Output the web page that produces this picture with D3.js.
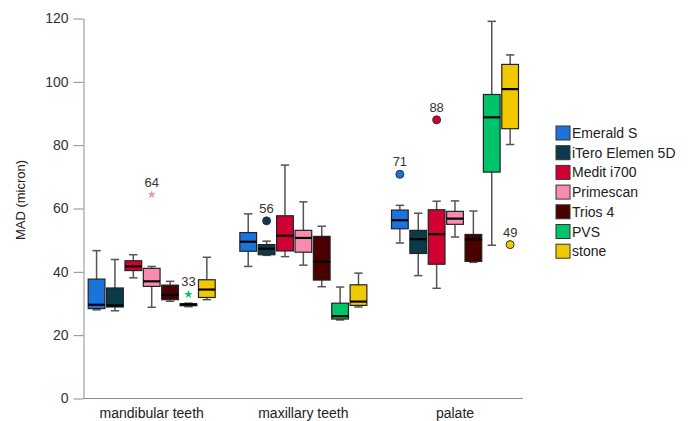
<!DOCTYPE html>
<html>
<head>
<meta charset="utf-8">
<script src="https://cdn.jsdelivr.net/npm/d3@7"></script>
<style>
  body { margin: 0; background: #fff; }
  text { font-family: "Liberation Sans", Arial, sans-serif; }
</style>
</head>
<body>
<svg id="chart" width="688" height="421"></svg>
<script>
'use strict';

const categories = ["mandibular teeth", "maxillary teeth", "palate"];
const series = ["Emerald S", "iTero Elemen 5D", "Medit i700", "Primescan", "Trios 4", "PVS", "stone"];
const colors = ["#1a74dc", "#0b3b4b", "#d10032", "#f78bb0", "#4a0000", "#00c36a", "#f1c900"];
const yTicks = [0, 20, 40, 60, 80, 100, 120];

// [whisker low, Q1, median, Q3, whisker high] for each category
const emeraldS  = [[28.0, 28.4, 29.6, 37.7, 46.7], [41.7, 46.5, 49.5, 52.4, 58.3], [49.1, 53.6, 56.3, 59.5, 61.0]];
const iTero     = [[27.7, 28.9, 29.4, 34.9, 43.9], [45.2, 45.4, 47.3, 48.6, 49.7], [38.8, 45.8, 50.3, 53.1, 58.5]];
const medit     = [[38.1, 40.4, 41.7, 43.5, 45.4], [44.8, 46.6, 51.4, 57.7, 73.7], [34.8, 42.4, 51.9, 59.6, 62.3]];
const primescan = [[28.8, 35.4, 37.0, 41.1, 41.7], [42.1, 46.2, 50.7, 53.1, 62.1], [51.0, 55.0, 56.8, 59.1, 62.4]];
const trios     = [[30.7, 31.2, 32.7, 35.8, 37.0], [35.3, 37.4, 43.2, 51.2, 54.4], [43.0, 43.3, 50.2, 51.8, 59.2]];
const pvs       = [[29.0, 29.3, 29.7, 29.9, 30.1], [24.8, 25.1, 26.0, 30.1, 35.2], [48.4, 71.5, 88.8, 96.0, 119.1]];
const stone     = [[31.2, 31.9, 34.4, 37.5, 44.6], [28.9, 29.4, 30.6, 35.9, 39.6], [80.2, 85.2, 97.7, 105.5, 108.5]];
const boxStats = [emeraldS, iTero, medit, primescan, trios, pvs, stone];

// outliers: series index, category index, value, case label, extreme (star)
const outliers = [
  { s: 3, c: 0, v: 64.4, label: "64", extreme: true },
  { s: 5, c: 0, v: 32.9, label: "33", extreme: true },
  { s: 1, c: 1, v: 56.1, label: "56", extreme: false },
  { s: 0, c: 2, v: 70.8, label: "71", extreme: false },
  { s: 2, c: 2, v: 88.0, label: "88", extreme: false },
  { s: 6, c: 2, v: 48.6, label: "49", extreme: false }
];

const svg = d3.select("#chart");
const axisLeftX = 83.5, axisRightX = 523;

const y = d3.scaleLinear().domain([0, 120]).range([398.5, 18.5]);
const x = d3.scalePoint().domain(categories).range([151.7, 455]);
const xs = d3.scaleBand().domain(series).range([-63.5, 63.5]).paddingInner(0.09);
const bw = xs.bandwidth();

// y axis
const yAxis = svg.append("g").attr("transform", `translate(${axisLeftX},0)`)
  .call(d3.axisLeft(y).tickValues(yTicks).tickSize(10).tickPadding(5).tickSizeOuter(0));
yAxis.select(".domain").attr("stroke", "#8c8c8c");
yAxis.selectAll(".tick line").attr("stroke", "#8c8c8c");
yAxis.selectAll(".tick text").attr("fill", "#333").style("font-size", "14px");

svg.append("text")
  .attr("transform", "translate(25,200) rotate(-90)")
  .attr("text-anchor", "middle")
  .attr("fill", "#222")
  .style("font-size", "13px")
  .text("MAD (micron)");

// x axis
svg.append("line")
  .attr("x1", axisLeftX).attr("x2", axisRightX)
  .attr("y1", y(0)).attr("y2", y(0))
  .attr("stroke", "#8c8c8c");
svg.selectAll(".cat-label").data(categories).enter().append("text")
  .attr("class", "cat-label")
  .attr("x", d => x(d))
  .attr("y", 418)
  .attr("text-anchor", "middle")
  .attr("fill", "#222")
  .style("font-size", "14px")
  .text(d => d);

// boxes
const boxes = [];
boxStats.forEach((arr, si) => {
  arr.forEach((st, ci) => {
    boxes.push({ s: si, c: ci, lo: st[0], q1: st[1], med: st[2], q3: st[3], hi: st[4] });
  });
});

const g = svg.selectAll(".box").data(boxes).enter().append("g")
  .attr("class", "box")
  .attr("transform", d => `translate(${x(categories[d.c]) + xs(series[d.s])},0)`);

// whiskers
g.append("line")
  .attr("x1", bw / 2).attr("x2", bw / 2)
  .attr("y1", d => y(d.hi)).attr("y2", d => y(d.q3))
  .attr("stroke", "#555").attr("stroke-width", 1.5);
g.append("line")
  .attr("x1", bw / 2).attr("x2", bw / 2)
  .attr("y1", d => y(d.q1)).attr("y2", d => y(d.lo))
  .attr("stroke", "#555").attr("stroke-width", 1.5);
g.append("line")
  .attr("x1", bw / 4).attr("x2", bw * 3 / 4)
  .attr("y1", d => y(d.hi)).attr("y2", d => y(d.hi))
  .attr("stroke", "#555").attr("stroke-width", 1.5);
g.append("line")
  .attr("x1", bw / 4).attr("x2", bw * 3 / 4)
  .attr("y1", d => y(d.lo)).attr("y2", d => y(d.lo))
  .attr("stroke", "#555").attr("stroke-width", 1.5);

g.append("rect")
  .attr("x", 0).attr("width", bw)
  .attr("y", d => y(d.q3))
  .attr("height", d => Math.max(1, y(d.q1) - y(d.q3)))
  .attr("fill", d => colors[d.s])
  .attr("stroke", "#222").attr("stroke-width", 1.2);

g.append("line")
  .attr("x1", 0).attr("x2", bw)
  .attr("y1", d => y(d.med)).attr("y2", d => y(d.med))
  .attr("stroke", "#000").attr("stroke-width", 2.2);

// outliers
const star = d3.symbol().type(d3.symbolStar).size(22);
const og = svg.selectAll(".outlier").data(outliers).enter().append("g")
  .attr("class", "outlier")
  .attr("transform", d => `translate(${x(categories[d.c]) + xs(series[d.s]) + bw / 2},${y(d.v)})`);
og.filter(d => d.extreme).append("path")
  .attr("d", star)
  .attr("fill", d => colors[d.s]);
og.filter(d => !d.extreme).append("circle")
  .attr("r", 4)
  .attr("fill", d => colors[d.s])
  .attr("stroke", "#333").attr("stroke-width", 1);
og.append("text")
  .attr("y", -8)
  .attr("text-anchor", "middle")
  .attr("fill", "#333")
  .style("font-size", "13px")
  .text(d => d.label);

// legend
const legend = svg.selectAll(".legend").data(series).enter().append("g")
  .attr("class", "legend")
  .attr("transform", (d, i) => `translate(556,${126 + i * 19.7})`);
legend.append("rect")
  .attr("width", 14).attr("height", 14)
  .attr("fill", (d, i) => colors[i])
  .attr("stroke", "#333").attr("stroke-width", 1);
legend.append("text")
  .attr("x", 16).attr("y", 12)
  .attr("fill", "#222")
  .style("font-size", "14px")
  .text(d => d);
</script>
</body>
</html>
